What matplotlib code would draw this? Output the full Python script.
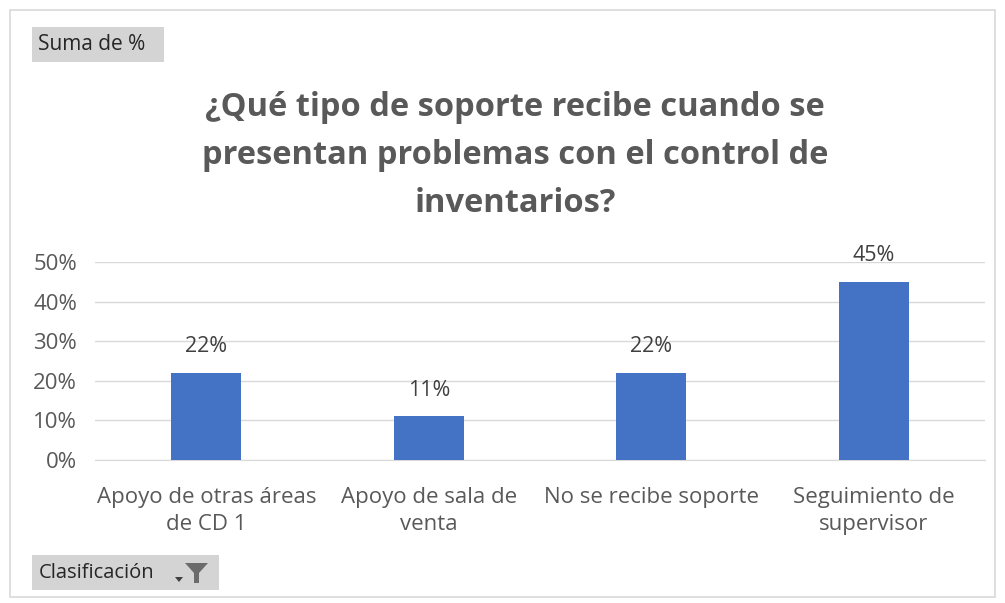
import matplotlib.pyplot as plt
from matplotlib.patches import Rectangle, Polygon

categorias = ["Apoyo de otras áreas\nde CD 1", "Apoyo de sala de\nventa",
              "No se recibe soporte", "Seguimiento de\nsupervisor"]
valores = [0.22, 0.11, 0.22, 0.45]
etiquetas = ["22%", "11%", "22%", "45%"]
y_ticks = [0, 0.1, 0.2, 0.3, 0.4, 0.5]
y_labels = ["0%", "10%", "20%", "30%", "40%", "50%"]
titulo = "¿Qué tipo de soporte recibe cuando se\npresentan problemas con el control de\ninventarios?"

plt.rcParams['font.family'] = ['Open Sans', 'DejaVu Sans']
gris = "#595959"
azul = "#4472C4"

W, H = 1005, 603
fig = plt.figure(figsize=(W / 100, H / 100), dpi=100)

# marco exterior del gráfico
fig.patches.append(Rectangle((10 / W, 1 - 597 / H), 985 / W, 587 / H,
                             transform=fig.transFigure, fill=False,
                             edgecolor="#d9d9d9", lw=1.2))

ax = fig.add_axes([95 / W, 1 - 460 / H, 890 / W, 198 / H])
x = range(len(categorias))
ax.bar(x, valores, width=0.315, color=azul, zorder=3)
for xi, v, t in zip(x, valores, etiquetas):
    ax.annotate(t, (xi, v), xytext=(0, 19), textcoords="offset points",
                ha="center", va="center", fontsize=15.5, color="#404040")

ax.set_xlim(-0.5, len(categorias) - 0.5)
ax.set_ylim(0, 0.5)
ax.set_yticks(y_ticks)
ax.set_yticklabels(y_labels, fontsize=16, color=gris)
ax.set_xticks(list(x))
ax.set_xticklabels(categorias, fontsize=16, color=gris, linespacing=1.35)
ax.grid(axis="y", color="#d9d9d9", lw=1, zorder=0)
ax.tick_params(length=0)
ax.tick_params(axis="y", pad=13)
ax.tick_params(axis="x", pad=19.5)
for s in ax.spines.values():
    s.set_visible(False)
ax.spines["bottom"].set_visible(True)
ax.spines["bottom"].set_color("#d9d9d9")

fig.text(515 / W, 1 - 156 / H, titulo, ha="center", va="center", fontsize=23.5,
         fontweight="bold", color=gris, linespacing=1.6)

# botones de campo de la tabla dinámica
fig.patches.append(Rectangle((32 / W, 1 - 62 / H), 132 / W, 35 / H,
                             transform=fig.transFigure, facecolor="#d4d4d4",
                             edgecolor="none"))
fig.text(38 / W, 1 - 45 / H, "Suma de %", ha="left", va="center", fontsize=15,
         color="#262626")
fig.patches.append(Rectangle((32 / W, 1 - 590 / H), 187 / W, 35 / H,
                             transform=fig.transFigure, facecolor="#d4d4d4",
                             edgecolor="none"))
fig.text(39 / W, 1 - 573 / H, "Clasificación", ha="left", va="center", fontsize=14.5,
         color="#262626")
# icono de filtro
fig.patches.append(Polygon([(185 / W, 1 - 563 / H), (208 / W, 1 - 563 / H),
                            (199 / W, 1 - 573 / H), (199 / W, 1 - 583 / H),
                            (194 / W, 1 - 583 / H), (194 / W, 1 - 573 / H)],
                           closed=True, transform=fig.transFigure,
                           facecolor="#6b6b6b", edgecolor="none"))
fig.patches.append(Polygon([(175 / W, 1 - 577 / H), (183 / W, 1 - 577 / H),
                            (179 / W, 1 - 582 / H)],
                           closed=True, transform=fig.transFigure,
                           facecolor="#404040", edgecolor="none"))

fig.savefig("out.png", dpi=100)
